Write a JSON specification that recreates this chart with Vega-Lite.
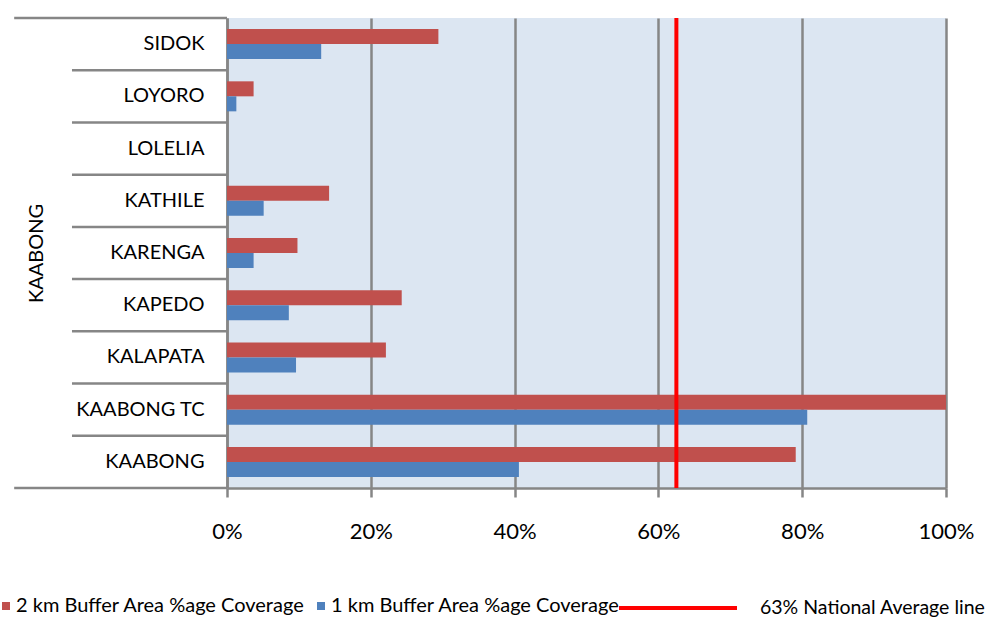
{
  "$schema": "https://vega.github.io/schema/vega-lite/v6.json",
  "width": 719,
  "height": 470,
  "autosize": {"type": "none"},
  "padding": {"left": 227, "top": 18, "right": 39, "bottom": 133},
  "config": {
    "font": "Lato",
    "view": {"fill": "#DCE6F2", "stroke": null},
    "axis": {"labelColor": "#000000", "titleColor": "#000000", "labelFont": "Lato", "titleFont": "Lato"},
    "legend": {"labelFont": "Lato", "labelColor": "#000000"}
  },
  "layer": [
    {
      "data": {
        "values": [
          {"subcounty": "SIDOK", "series": "2 km Buffer Area %age Coverage", "value": 0.294},
          {"subcounty": "SIDOK", "series": "1 km Buffer Area %age Coverage", "value": 0.131},
          {"subcounty": "LOYORO", "series": "2 km Buffer Area %age Coverage", "value": 0.037},
          {"subcounty": "LOYORO", "series": "1 km Buffer Area %age Coverage", "value": 0.013},
          {"subcounty": "LOLELIA", "series": "2 km Buffer Area %age Coverage", "value": 0},
          {"subcounty": "LOLELIA", "series": "1 km Buffer Area %age Coverage", "value": 0},
          {"subcounty": "KATHILE", "series": "2 km Buffer Area %age Coverage", "value": 0.142},
          {"subcounty": "KATHILE", "series": "1 km Buffer Area %age Coverage", "value": 0.051},
          {"subcounty": "KARENGA", "series": "2 km Buffer Area %age Coverage", "value": 0.098},
          {"subcounty": "KARENGA", "series": "1 km Buffer Area %age Coverage", "value": 0.037},
          {"subcounty": "KAPEDO", "series": "2 km Buffer Area %age Coverage", "value": 0.243},
          {"subcounty": "KAPEDO", "series": "1 km Buffer Area %age Coverage", "value": 0.086},
          {"subcounty": "KALAPATA", "series": "2 km Buffer Area %age Coverage", "value": 0.221},
          {"subcounty": "KALAPATA", "series": "1 km Buffer Area %age Coverage", "value": 0.096},
          {"subcounty": "KAABONG TC", "series": "2 km Buffer Area %age Coverage", "value": 1.0},
          {"subcounty": "KAABONG TC", "series": "1 km Buffer Area %age Coverage", "value": 0.807},
          {"subcounty": "KAABONG", "series": "2 km Buffer Area %age Coverage", "value": 0.791},
          {"subcounty": "KAABONG", "series": "1 km Buffer Area %age Coverage", "value": 0.406}
        ]
      },
      "mark": {"type": "bar"},
      "encoding": {
        "y": {
          "field": "subcounty",
          "type": "nominal",
          "sort": ["SIDOK", "LOYORO", "LOLELIA", "KATHILE", "KARENGA", "KAPEDO", "KALAPATA", "KAABONG TC", "KAABONG"],
          "scale": {"paddingInner": 0, "paddingOuter": 0},
          "axis": {
            "title": "KAABONG",
            "titleFontSize": 20,
            "titleFontWeight": "normal",
            "titleX": -191,
            "titleY": 235,
            "titleAngle": -90,
            "titleBaseline": "middle",
            "titleAlign": "center",
            "labelFontSize": 20,
            "labelPadding": 23,
            "labelLimit": 300,
            "ticks": false,
            "domainColor": "#868686",
            "domainWidth": 2.5,
            "grid": false
          }
        },
        "x": {
          "field": "value",
          "type": "quantitative",
          "scale": {"domain": [0, 1], "nice": false},
          "axis": {
            "title": null,
            "format": "%",
            "values": [0, 0.2, 0.4, 0.6, 0.8, 1],
            "grid": true,
            "gridColor": "#868686",
            "gridWidth": 2.5,
            "tickColor": "#868686",
            "tickWidth": 2.5,
            "tickSize": 9,
            "domainColor": "#868686",
            "domainWidth": 2.5,
            "labelFontSize": 22,
            "labelPadding": 24,
            "labelFlush": false
          }
        },
        "yOffset": {
          "field": "series",
          "sort": ["2 km Buffer Area %age Coverage", "1 km Buffer Area %age Coverage"],
          "scale": {"paddingInner": 0, "paddingOuter": 0.74}
        },
        "color": {
          "field": "series",
          "type": "nominal",
          "scale": {"domain": ["2 km Buffer Area %age Coverage", "1 km Buffer Area %age Coverage"], "range": ["#C0504D", "#4F81BD"]},
          "legend": {
            "title": null,
            "orient": "none",
            "legendX": -231,
            "legendY": 578,
            "direction": "horizontal",
            "symbolType": "square",
            "symbolSize": 64,
            "symbolStrokeWidth": 0,
            "labelFontSize": 20,
            "labelOffset": 0,
            "columnPadding": 6,
            "labelLimit": 400
          }
        }
      }
    },
    {
      "data": {"values": [{"subcounty": "LOYORO"}, {"subcounty": "LOLELIA"}, {"subcounty": "KATHILE"}, {"subcounty": "KARENGA"}, {"subcounty": "KAPEDO"}, {"subcounty": "KALAPATA"}, {"subcounty": "KAABONG TC"}, {"subcounty": "KAABONG"}]},
      "mark": {"type": "rule", "color": "#868686", "strokeWidth": 2.5},
      "encoding": {
        "y": {"field": "subcounty", "type": "nominal", "bandPosition": 0, "sort": ["SIDOK", "LOYORO", "LOLELIA", "KATHILE", "KARENGA", "KAPEDO", "KALAPATA", "KAABONG TC", "KAABONG"]},
        "x": {"datum": -0.2156, "type": "quantitative"},
        "x2": {"datum": 0}
      }
    },
    {
      "data": {"values": [{"subcounty": "SIDOK"}]},
      "mark": {"type": "rule", "color": "#868686", "strokeWidth": 2.5},
      "encoding": {
        "y": {"field": "subcounty", "type": "nominal", "bandPosition": 0, "sort": ["SIDOK", "LOYORO", "LOLELIA", "KATHILE", "KARENGA", "KAPEDO", "KALAPATA", "KAABONG TC", "KAABONG"]},
        "x": {"datum": -0.296, "type": "quantitative"},
        "x2": {"datum": 0}
      }
    },
    {
      "data": {"values": [{"subcounty": "KAABONG"}]},
      "mark": {"type": "rule", "color": "#868686", "strokeWidth": 2.5},
      "encoding": {
        "y": {"field": "subcounty", "type": "nominal", "bandPosition": 1, "sort": ["SIDOK", "LOYORO", "LOLELIA", "KATHILE", "KARENGA", "KAPEDO", "KALAPATA", "KAABONG TC", "KAABONG"]},
        "x": {"datum": -0.296, "type": "quantitative"},
        "x2": {"datum": 0}
      }
    },
    {
      "data": {"values": [{"label": "63% National Average line", "value": 0.625}]},
      "mark": {"type": "rule", "strokeWidth": 4},
      "encoding": {
        "x": {"field": "value", "type": "quantitative"},
        "color": {
          "field": "label",
          "type": "nominal",
          "scale": {"range": ["#FF0000"]},
          "legend": {
            "title": null,
            "orient": "none",
            "legendX": 390,
            "legendY": 529,
            "symbolType": "stroke",
            "symbolSize": 13924,
            "symbolStrokeWidth": 4,
            "labelFontSize": 19.5,
            "labelOffset": 21,
            "labelLimit": 400
          }
        }
      }
    }
  ],
  "resolve": {"scale": {"color": "independent"}}
}
